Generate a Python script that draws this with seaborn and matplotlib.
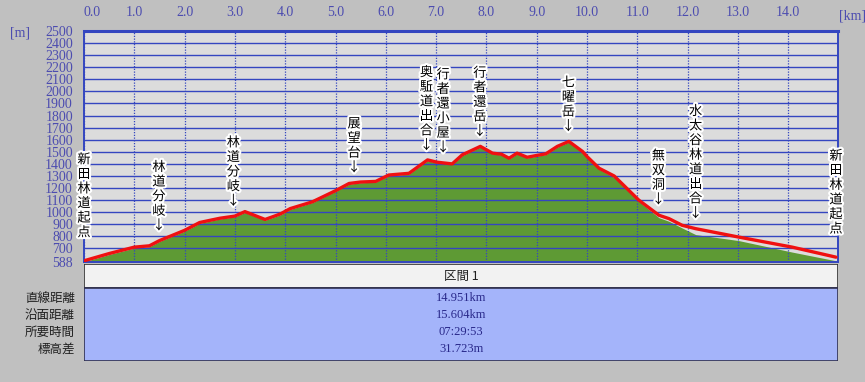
import numpy as np
import pandas as pd
import matplotlib
matplotlib.use("Agg")
import matplotlib.pyplot as plt
import matplotlib.patheffects as pe
from matplotlib.patches import Rectangle
import seaborn as sns

# ---------------- data ----------------
km = [0.0, 0.5, 1.0, 1.3, 1.5, 2.0, 2.3, 2.7, 3.0, 3.2, 3.6, 3.9, 4.1, 4.54,
      5.0, 5.27, 5.5, 5.8, 6.06, 6.46, 6.83, 7.02, 7.32, 7.52, 7.88, 8.12,
      8.3, 8.45, 8.61, 8.81, 9.0, 9.18, 9.41, 9.64, 9.91, 10.0, 10.24, 10.54,
      11.03, 11.43, 11.63, 11.89, 12.16, 13.02, 14.08, 14.95]
elev = [598, 658, 711, 722, 765, 850, 915, 950, 968, 1005, 940, 985, 1030, 1086,
        1178, 1238, 1250, 1255, 1308, 1322, 1433, 1414, 1400, 1475, 1545, 1489,
        1480, 1447, 1489, 1455, 1470, 1483, 1545, 1586, 1503, 1461, 1364, 1300,
        1100, 975, 947, 892, 864, 794, 711, 628]
ground = [590, 650, 703, 715, 758, 843, 908, 944, 962, 998, 933, 978, 1023, 1080,
          1172, 1232, 1244, 1249, 1302, 1316, 1426, 1408, 1394, 1469, 1539, 1483,
          1474, 1441, 1483, 1449, 1464, 1477, 1539, 1580, 1497, 1455, 1355, 1288,
          1090, 955, 925, 870, 815, 765, 670, 598]

x_ticks = list(range(0, 15))
x_tick_labels = [f"{v:.1f}" for v in x_ticks]
y_ticks = [588] + list(range(700, 2501, 100))

label_km = [0.0, 1.49, 2.97, 5.37, 6.81, 7.14, 7.87, 9.63, 11.42, 12.16, 14.95]
label_text = ["新田林道起点", "林道分岐", "林道分岐", "展望台", "奥駈道出合",
              "行者還小屋", "行者還岳", "七曜岳", "無双洞", "水太谷林道出合", "新田林道起点"]
label_arrow = [False, True, True, True, True, True, True, True, True, True, False]

table_header = "区間 1"
row_names = ["直線距離", "沿面距離", "所要時間", "標高差"]
row_values = ["14.951km", "15.604km", "07:29:53", "31.723m"]

# ---------------- style ----------------
sns.set_style("white")
plt.rcParams["font.family"] = ["Noto Sans CJK JP", "DejaVu Sans"]

W, H, DPI = 865, 382, 100
BLUE = "#3446c0"
TICKC = "#4c4cb0"
RED = "#f01010"
GREEN = "#5e9a34"

fig = plt.figure(figsize=(W / DPI, H / DPI), dpi=DPI, facecolor="#c0c0c0")

def fx(px):
    return px / W

def fy(py):
    return 1 - py / H

L, R, T, B = 84, 838, 31, 262
ax = fig.add_axes([fx(L), fy(B), fx(R - L), (B - T) / H])
ax.set_facecolor("#dcdcdc")

df = pd.DataFrame({"km": km, "elev": elev, "ground": ground})

ax.fill_between(df["km"], 588, df["ground"], color=GREEN, zorder=1, linewidth=0)
for y in y_ticks[1:]:
    ax.axhline(y, color=BLUE, lw=1.0, zorder=2)
for x in x_ticks:
    ax.axvline(x, color=BLUE, lw=0.9, ls=(0, (1, 1.2)), zorder=2)
sns.lineplot(data=df, x="km", y="elev", ax=ax, color=RED, lw=2.4, zorder=4,
             estimator=None, sort=False)

ax.set_xlim(0, 14.99)
ax.set_ylim(588, 2500)
ax.set_xlabel("")
ax.set_ylabel("")
ax.xaxis.tick_top()
ax.set_xticks(x_ticks)
ax.set_xticklabels(x_tick_labels)
ax.set_yticks(y_ticks)
ax.set_yticklabels([str(v) for v in y_ticks])
ax.tick_params(axis="x", length=0, pad=9, labelcolor=TICKC)
ax.tick_params(axis="y", length=0, pad=8, labelcolor=TICKC)
for lab in ax.get_yticklabels() + ax.get_xticklabels():
    lab.set_fontfamily(["Liberation Serif", "DejaVu Serif"])
    lab.set_fontsize(10)
ax.get_xticklabels()[0].set_horizontalalignment("left")
for s in ax.spines.values():
    s.set_color(BLUE)
    s.set_linewidth(1.4)
ax.spines["top"].set_linewidth(2.2)

fig.text(fx(10), fy(33), "[m]", color=TICKC, fontsize=10, ha="left", va="center",
         family=["Liberation Serif", "DejaVu Serif"])
fig.text(fx(852), fy(16), "[km]", color=TICKC, fontsize=10, ha="center", va="center",
         family=["Liberation Serif", "DejaVu Serif"])

# annotations: stacked vertical characters with halo
step = 14.6  # px between characters
halo = [pe.withStroke(linewidth=3, foreground="white")]
for k, txt, arr in zip(label_km, label_text, label_arrow):
    yprof = float(np.interp(k, km, elev))
    chars = list(txt) + (["↓"] if arr else [])
    base = 15 if arr else 28
    for i, ch in enumerate(reversed(chars)):
        off = (base + i * step) * 72 / DPI
        ax.annotate(ch, xy=(k, yprof), xytext=(0, off), textcoords="offset points",
                    ha="center", va="center", fontsize=9.5, color="black",
                    path_effects=halo, annotation_clip=False, zorder=6)

# ---------------- table ----------------
tax = fig.add_axes([fx(L), fy(361), fx(R - L), (361 - 264) / H])
tax.set_xlim(L, R)
tax.set_ylim(361, 264)
tax.axis("off")
tax.add_patch(Rectangle((L, 264), R - L, 287.5 - 264, facecolor="#f2f2f2",
                        edgecolor="#303030", lw=1.2))
tax.add_patch(Rectangle((L, 287.5), R - L, 361 - 287.5, facecolor="#a4b4fa",
                        edgecolor="#303050", lw=1.2))
tax.text((L + R) / 2, 276, table_header, ha="center", va="center", fontsize=9,
         color="#202020")
for i, (n, v) in enumerate(zip(row_names, row_values)):
    yy = 298 + i * 17
    tax.text((L + R) / 2, yy, v, ha="center", va="center", fontsize=9,
             color="#28288a", family=["Liberation Serif", "DejaVu Serif"])
    fig.text(fx(75), fy(yy), n, ha="right", va="center", fontsize=9, color="#202020")

fig.savefig("out.png", dpi=DPI, facecolor=fig.get_facecolor())
